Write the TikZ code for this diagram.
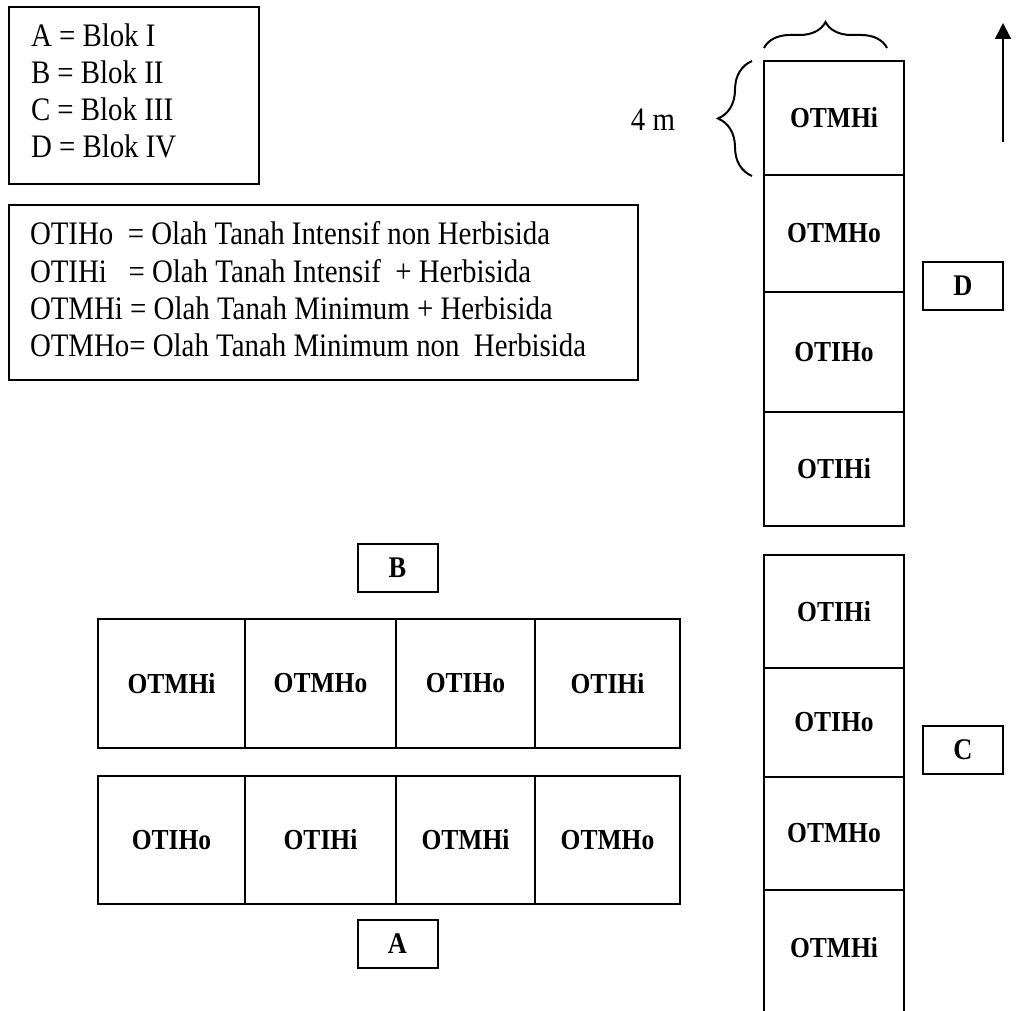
\documentclass[tikz,border=0pt]{standalone}
\usepackage{fontspec}
\setmainfont{Liberation Serif}[FakeStretch=0.88]
\usetikzlibrary{arrows.meta,decorations.pathreplacing}
\begin{document}
\begin{tikzpicture}[x=0.5pt,y=-0.5pt,
  line width=1pt,
  cell/.style={draw,line width=1pt,inner sep=0pt,font=\fontsize{14.5}{16}\selectfont\bfseries},
  opencell/.style={inner sep=0pt,outer sep=0pt,font=\fontsize{14.5}{16}\selectfont\bfseries},
  legtxt/.style={anchor=base west,inner sep=0pt,font=\fontsize{16.4}{18}\selectfont},
  legbox/.style={draw,line width=1pt,inner sep=0pt},
  tagbox/.style={draw,line width=1pt,inner sep=0pt,minimum width=40pt,minimum height=24pt,font=\fontsize{15}{17}\selectfont\bfseries},
  bracedeco/.style={decorate,decoration={brace,amplitude=#1},line width=1pt}]
\useasboundingbox (0,0) rectangle (1020,1010);
\clip (0,0) rectangle (1020,1010);

% legend 1
\node[legbox,minimum width=125pt,minimum height=88.5pt] (leg1) at (134,95.5) {};
\node[legtxt] (l1a) at (30,46.5) {A = Blok I};
\node[legtxt] (l1b) at (30,83.5) {B = Blok II};
\node[legtxt] (l1c) at (30,120.5) {C = Blok III};
\node[legtxt] (l1d) at (30,157.5) {D = Blok IV};

% legend 2
\node[legbox,minimum width=314.5pt,minimum height=87.5pt] (leg2) at (323.5,292.5) {};
\node[legtxt] (l2a) at (29,245) {OTIHo\ \ = Olah Tanah Intensif non Herbisida};
\node[legtxt] (l2b) at (29,282) {OTIHi\ \ \ = Olah Tanah Intensif\ \ + Herbisida};
\node[legtxt] (l2c) at (29,319) {OTMHi = Olah Tanah Minimum + Herbisida};
\node[legtxt] (l2d) at (29,356) {OTMHo= Olah Tanah Minimum non\ \ Herbisida};

% block B (row)
\node[cell,minimum width=73.5pt,minimum height=64.5pt] (b1) at (171.5,683.5) {OTMHi};
\node[cell,minimum width=75.5pt,minimum height=64.5pt] (b2) at (320.5,683.5) {OTMHo};
\node[cell,minimum width=69.5pt,minimum height=64.5pt] (b3) at (465.5,683.5) {OTIHo};
\node[cell,minimum width=72.5pt,minimum height=64.5pt] (b4) at (607.5,683.5) {OTIHi};
\node[tagbox] (tagB) at (397.5,567.5) {B};

% block A (row)
\node[cell,minimum width=73.5pt,minimum height=64pt] (a1) at (171.5,840) {OTIHo};
\node[cell,minimum width=75.5pt,minimum height=64pt] (a2) at (320.5,840) {OTIHi};
\node[cell,minimum width=69.5pt,minimum height=64pt] (a3) at (465.5,840) {OTMHi};
\node[cell,minimum width=72.5pt,minimum height=64pt] (a4) at (607.5,840) {OTMHo};
\node[tagbox] (tagA) at (397.5,944) {A};

% block D (column)
\node[cell,minimum width=70pt,minimum height=57pt] (d1) at (834,118) {OTMHi};
\node[cell,minimum width=70pt,minimum height=58.5pt] (d2) at (834,233.5) {OTMHo};
\node[cell,minimum width=70pt,minimum height=60pt] (d3) at (834,352) {OTIHo};
\node[cell,minimum width=70pt,minimum height=57pt] (d4) at (834,469) {OTIHi};
\node[tagbox] (tagD) at (963,286) {D};

% block C (column)
\node[cell,minimum width=70pt,minimum height=56.5pt] (c1) at (834,611.5) {OTIHi};
\node[cell,minimum width=70pt,minimum height=54.5pt] (c2) at (834,722.5) {OTIHo};
\node[cell,minimum width=70pt,minimum height=56.5pt] (c3) at (834,833.5) {OTMHo};
\node[opencell,minimum width=70pt,minimum height=58pt] (c4) at (834,948) {OTMHi};
\draw ([yshift=-20pt]c4.south west) -- (c4.north west) -- (c4.north east) -- ([yshift=-20pt]c4.south east);
\node[tagbox] (tagC) at (963,750) {C};

% dimension braces
\coordinate (tbL) at (764,48);
\coordinate (tbR) at (887,48);
\draw[bracedeco=13pt] (tbL) -- (tbR);
\coordinate (lbB) at (752,176);
\coordinate (lbT) at (752,61);
\draw[bracedeco=17pt] (lbB) -- (lbT);
\node[inner sep=0pt,font=\fontsize{16.4}{18}\selectfont] (dim) at (653,120) {4 m};

% north arrow
\coordinate (arB) at (1003,142);
\coordinate (arT) at (1003,23);
\draw[-{Triangle[length=8pt,width=8pt]}] (arB) -- (arT);
\end{tikzpicture}
\end{document}
